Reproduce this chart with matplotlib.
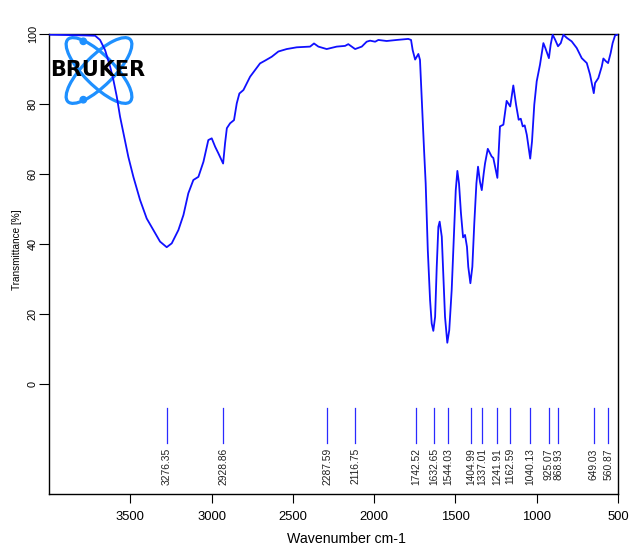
import matplotlib
matplotlib.use("Agg")
import matplotlib.pyplot as plt
import matplotlib.transforms as mtransforms
from matplotlib.patches import Ellipse, Circle

# IR spectrum (wavenumber in cm-1, transmittance in %)
wavenumber = [3993, 3870, 3778, 3716, 3686, 3655, 3624, 3604, 3583, 3563,
              3542, 3512, 3481, 3440, 3399, 3358, 3317, 3276, 3245, 3204,
              3173, 3143, 3112, 3081, 3050, 3020, 2999, 2978, 2958, 2929,
              2917, 2906, 2886, 2862, 2845, 2829, 2804, 2763, 2702, 2671,
              2630, 2589, 2538, 2476, 2394, 2370, 2343, 2292, 2230, 2179,
              2159, 2117, 2076, 2046, 2025, 1994, 1974, 1923, 1861, 1790,
              1773, 1763, 1748, 1728, 1718, 1707, 1693, 1683, 1670, 1656,
              1646, 1636, 1625, 1615, 1605, 1597, 1584, 1574, 1564, 1550,
              1538, 1523, 1509, 1498, 1488, 1478, 1466, 1453, 1441, 1429,
              1421, 1408, 1396, 1384, 1371, 1361, 1349, 1338, 1326, 1318,
              1301, 1277, 1267, 1242, 1226, 1205,
              1185, 1163, 1144, 1127, 1111, 1098, 1086, 1074, 1061, 1040,
              1029, 1015, 1000, 980, 959, 947, 925, 914, 902, 887,
              869, 852, 836, 815, 785, 754, 723, 692, 672, 649,
              641, 621, 600, 590, 574, 561, 545, 533, 518, 503]
transmittance = [99.8, 99.7, 99.6, 99.5, 98.3, 95.4, 90.7, 86.9, 82.1, 76.4,
                 71.6, 64.9, 59.2, 52.6, 47.3, 44.0, 40.7, 39.1, 40.2, 44.0,
                 48.3, 54.5, 58.3, 59.2, 63.5, 69.7, 70.2, 67.8, 65.9, 63.0,
                 68.8, 73.1, 74.5, 75.4, 80.2, 83.0, 84.0, 87.8, 91.6, 92.4,
                 93.5, 95.0, 95.7, 96.2, 96.4, 97.3, 96.4, 95.7, 96.4, 96.6,
                 97.1, 95.7, 96.4, 97.8, 98.1, 97.8, 98.3, 98.0, 98.3, 98.6,
                 98.3, 95.4, 92.7, 94.3, 92.6, 81.1, 66.9, 57.3, 38.3, 24.0,
                 17.3, 15.2, 19.2, 33.5, 44.9, 46.4, 42.1, 30.7, 19.2, 11.8,
                 15.4, 26.9, 43.0, 55.4, 60.9, 57.3, 48.8, 41.9, 42.6, 39.2,
                 33.5, 28.8, 33.5, 45.9, 57.3, 62.1, 57.8, 55.4, 60.2, 63.0,
                 67.2, 65.0, 64.6, 58.9, 73.6, 74.1,
                 80.9, 79.3, 85.3, 79.8, 75.5, 75.8, 73.6, 73.9, 71.2, 64.4,
                 69.3, 79.8, 86.5, 91.2, 97.4, 96.0, 93.1, 97.0, 99.8, 98.4,
                 96.5, 97.4, 99.8, 98.9, 97.9, 96.0, 93.1, 91.7, 88.4, 83.1,
                 86.0, 87.4, 90.7, 93.0, 92.2, 91.7, 94.6, 97.4, 99.6, 99.8]

# Picked peaks
peak_positions = [3276.35, 2928.86, 2287.59, 2116.75, 1742.52, 1632.65,
                  1544.03, 1404.99, 1337.01, 1241.91, 1162.59, 1040.13,
                  925.07, 868.93, 649.03, 560.87]

x_ticks = [3500, 3000, 2500, 2000, 1500, 1000, 500]
y_ticks = [0, 20, 40, 60, 80, 100]

W, H = 630, 545
plt.rcParams['font.family'] = ['Liberation Sans', 'DejaVu Sans']

fig = plt.figure(figsize=(W / 100, H / 100), dpi=100)
ax = fig.add_axes([49 / W, 1 - 494 / H, (618 - 49) / W, (494 - 34) / H])
ax.set_facecolor('none')

ax.plot(wavenumber, transmittance, color='#1010ff', lw=1.3, zorder=3,
        solid_joinstyle='round')

ax.set_xlim(4000, 500)
ax.set_ylim(-31.4, 100)

# peak markers and labels
for p in peak_positions:
    ax.plot([p, p], [-6.9, -16.9], color='#2a2aff', lw=0.9, zorder=3)
    ax.text(p, -18.3, f"{p:.2f}", rotation=90, ha='center', va='top',
            fontsize=7.4, color='#222222')

ax.set_xticks(x_ticks)
ax.set_xticklabels([str(t) for t in x_ticks], fontsize=9.4)
ax.set_yticks(y_ticks)
ax.set_yticklabels([str(t) for t in y_ticks], fontsize=7.8, rotation=90,
                   va='center')
ax.tick_params(axis='x', direction='out', length=6.5, width=0.8, pad=6)
ax.tick_params(axis='y', direction='out', length=7, width=0.8, pad=1)
for s in ax.spines.values():
    s.set_linewidth(1.0)
    s.set_color('black')

# text in figure pixel coordinates (origin at top-left)
px = mtransforms.Affine2D().scale(1 / W, -1 / H).translate(0, 1) + fig.transFigure
fig.text(346 / W, 1 - 539 / H, "Wavenumber cm-1", ha='center', va='center',
         fontsize=10.2)
fig.text(16.7 / W, 1 - 250 / H, "Transmittance [%]", ha='center', va='center',
         rotation=90, fontsize=7.2)

# Bruker logo
logo_blue = '#1e90ff'
for ang in (45, -45):
    ax.add_patch(Ellipse((99, 70.5), 88, 30, angle=ang, transform=px,
                         fill=False, edgecolor=logo_blue, lw=2.3, zorder=1,
                         clip_on=False))
for cy in (41.3, 99.7):
    ax.add_patch(Circle((83.3, cy), 3.2, transform=px, color=logo_blue,
                        zorder=1, clip_on=False))
fig.text(97.5 / W, 1 - 70.5 / H, "BRUKER", ha='center', va='center',
         fontsize=15, fontweight='heavy', family='DejaVu Sans', color='black',
         zorder=2)

fig.savefig("out.png", dpi=100)
